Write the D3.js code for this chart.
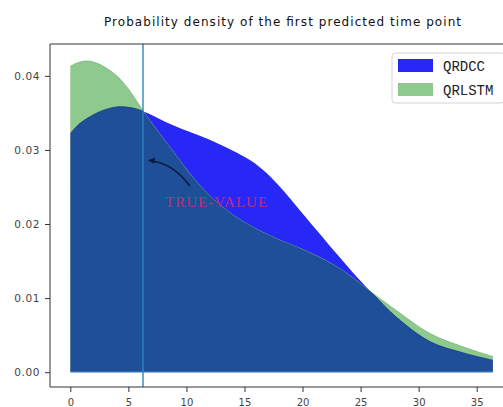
<!DOCTYPE html>
<html>
<head>
<meta charset="utf-8">
<script src="https://cdn.jsdelivr.net/npm/d3@7"></script>
<style>
  body { margin: 0; background: #fff; }
  svg { display: block; }
</style>
</head>
<body>
<svg id="chart" width="503" height="407"></svg>
<script>
// density curves
const qrdccX = [0, 0.7, 1.4, 2.6, 4, 5.2, 6.3, 8.9, 11.8, 14, 15.5, 16.9, 18.3, 19.8, 21.2, 23.2, 24.7, 26.1, 28.1, 31, 33.85, 36.4];
const qrdccY = [0.0322, 0.0334, 0.0342, 0.0352, 0.0358, 0.0357, 0.0352, 0.0333, 0.0315, 0.0299, 0.0286, 0.0269, 0.0246, 0.0218, 0.0192, 0.0155, 0.0128, 0.0105, 0.0074, 0.0041, 0.0026, 0.0016];

const qrlstmX = [0, 0.7, 1.5, 2.3, 3.15, 4, 4.6, 5.2, 5.75, 6.3, 7.5, 8.9, 10.5, 12.3, 14.6, 17.5, 20.4, 23.2, 26.1, 28.1, 31, 33.85, 36.4];
const qrlstmY = [0.0413, 0.0418, 0.0420, 0.0417, 0.0410, 0.0400, 0.0390, 0.0378, 0.0365, 0.0352, 0.0326, 0.0297, 0.0264, 0.0234, 0.0206, 0.0182, 0.0163, 0.0140, 0.0106, 0.0083, 0.0052, 0.0034, 0.0021];

const xTicks = [0, 5, 10, 15, 20, 25, 30, 35];
const yTicks = [0, 0.01, 0.02, 0.03, 0.04];
const seriesNames = ['QRDCC', 'QRLSTM'];
const trueValue = 6.26;

const svg = d3.select('#chart');

const x = d3.scaleLinear().domain([-1.75, 38.3]).range([50, 515]);
const y = d3.scaleLinear().domain([-0.002, 0.0443]).range([387, 44]);

const blue = '#2828f6';
const green = '#8ec98e';
const dark = '#1e4f98';
const curve = d3.curveCatmullRom.alpha(0.5);

const areaOf = (xs) => d3.area()
  .x((d, i) => x(xs[i]))
  .y0(y(0))
  .y1(d => y(d))
  .curve(curve);

const lineOf = (xs) => d3.line()
  .x((d, i) => x(xs[i]))
  .y(d => y(d))
  .curve(curve);

const defs = svg.append('defs');
defs.append('clipPath').attr('id', 'greenClip')
  .append('path').attr('d', areaOf(qrlstmX)(qrlstmY));

// title
svg.append('text')
  .attr('x', 104).attr('y', 26)
  .attr('textLength', 357)
  .style('font-family', 'DejaVu Sans, sans-serif')
  .style('font-size', '12px')
  .attr('fill', '#111')
  .text('Probability density of the first predicted time point');

// areas
svg.append('path').attr('d', areaOf(qrdccX)(qrdccY)).attr('fill', blue);
svg.append('path').attr('d', areaOf(qrlstmX)(qrlstmY)).attr('fill', green);
svg.append('path').attr('d', lineOf(qrlstmX)(qrlstmY))
  .attr('fill', 'none').attr('stroke', '#72b272').attr('stroke-width', 0.8);
svg.append('path').attr('d', areaOf(qrdccX)(qrdccY))
  .attr('clip-path', 'url(#greenClip)')
  .attr('fill', dark);
svg.append('path').attr('d', lineOf(qrdccX)(qrdccY))
  .attr('clip-path', 'url(#greenClip)')
  .attr('fill', 'none').attr('stroke', '#1a3a86').attr('stroke-width', 0.9);
svg.append('line')
  .attr('x1', x(0)).attr('x2', x(36.4))
  .attr('y1', y(0)).attr('y2', y(0))
  .attr('stroke', '#7fb6e0').attr('stroke-width', 0.8);

// true value line
svg.append('line')
  .attr('x1', x(trueValue)).attr('x2', x(trueValue))
  .attr('y1', 44).attr('y2', 387)
  .attr('stroke', '#2a86c0').attr('stroke-width', 1.4);

// annotation
const tip = [x(6.69), y(0.0286)];
const tail = [x(10.3), y(0.0251)];
svg.append('path')
  .attr('d', `M${tail[0]},${tail[1]} Q${tip[0] + 26},${tip[1] + 4} ${tip[0] + 5},${tip[1] + 1}`)
  .attr('fill', 'none').attr('stroke', '#0a1a3a').attr('stroke-width', 1.5);
svg.append('path')
  .attr('d', `M${tip[0]},${tip[1]} L${tip[0] + 7},${tip[1] - 2.5} L${tip[0] + 6},${tip[1] + 3.5} Z`)
  .attr('fill', '#0a1a3a');
svg.append('text')
  .attr('x', x(8.16)).attr('y', y(0.0223))
  .attr('textLength', 102)
  .style('font-family', 'Liberation Serif, serif')
  .style('font-size', '15px')
  .attr('fill', '#b8307a')
  .text('TRUE-VALUE');

// axes
const axisColor = '#333';
svg.append('g')
  .attr('transform', 'translate(0,387)')
  .call(d3.axisBottom(x).tickValues(xTicks).tickSize(5).tickPadding(7).tickFormat(d3.format('d')))
  .call(g => g.select('.domain').remove())
  .call(g => g.selectAll('line').attr('stroke', axisColor))
  .call(g => g.selectAll('text').attr('fill', '#444')
    .style('font-family', 'DejaVu Sans, sans-serif').style('font-size', '10px'));

svg.append('g')
  .attr('transform', 'translate(50,0)')
  .call(d3.axisLeft(y).tickValues(yTicks).tickSize(5).tickPadding(5).tickFormat(d3.format('.2f')))
  .call(g => g.select('.domain').remove())
  .call(g => g.selectAll('line').attr('stroke', axisColor))
  .call(g => g.selectAll('text').attr('fill', '#444')
    .style('font-family', 'DejaVu Sans, sans-serif').style('font-size', '10.5px')
    .attr('letter-spacing', '0.6px'));

// spines
svg.append('path')
  .attr('d', 'M503,44 H50 V387 H503')
  .attr('fill', 'none').attr('stroke', axisColor).attr('stroke-width', 1);

// legend
const legend = svg.append('g').attr('transform', 'translate(392,53)');
legend.append('rect')
  .attr('width', 112).attr('height', 50).attr('rx', 3)
  .attr('fill', '#fff').attr('fill-opacity', 0.8)
  .attr('stroke', '#d4d4d4');
const legendColors = [blue, green];
seriesNames.forEach((name, i) => {
  legend.append('rect')
    .attr('x', 6).attr('y', 6 + i * 24)
    .attr('width', 35).attr('height', 13)
    .attr('fill', legendColors[i]);
  legend.append('text')
    .attr('x', 51).attr('y', 17.5 + i * 24)
    .style('font-family', 'Liberation Mono, monospace')
    .style('font-size', '14px')
    .attr('fill', '#222')
    .text(name);
});
</script>
</body>
</html>
